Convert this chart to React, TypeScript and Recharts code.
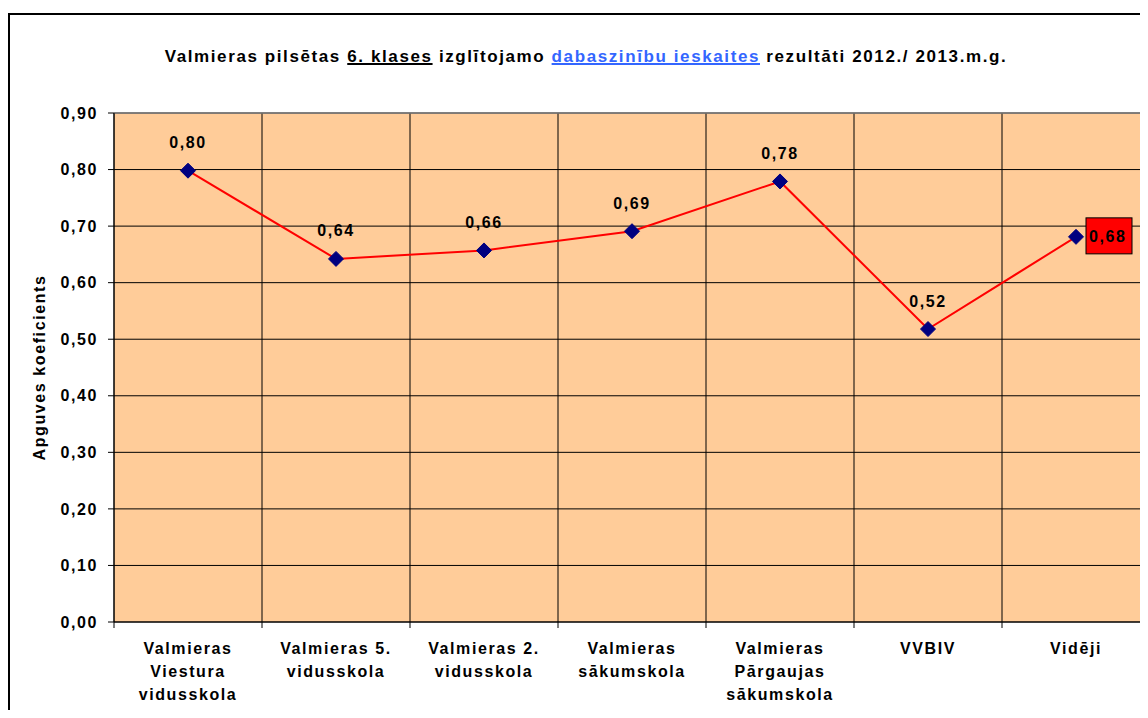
import { LineChart, Line, XAxis, YAxis, CartesianGrid, LabelList, ReferenceLine } from 'recharts'

const categories = [
  'Valmieras\nViestura\nvidusskola',
  'Valmieras 5.\nvidusskola',
  'Valmieras 2.\nvidusskola',
  'Valmieras\nsākumskola',
  'Valmieras\nPārgaujas\nsākumskola',
  'VVBIV',
  'Vidēji',
]
const values = [0.798, 0.642, 0.657, 0.691, 0.779, 0.518, 0.681]
const yTicks = [0, 0.1, 0.2, 0.3, 0.4, 0.5, 0.6, 0.7, 0.8, 0.9]

const FONT = "Arial, 'Liberation Sans', sans-serif"
const SPACING = 1.6
const fmt = (v: number) => v.toFixed(2).replace('.', ',')

const chartData = categories.map((name, i) => ({ name, value: values[i] }))

function XTick(props: any) {
  const { x, y, payload, width, visibleTicksCount } = props
  const band = width / visibleTicksCount
  const lines = String(payload.value).split('\n')
  return (
    <g>
      <line x1={x - band / 2} x2={x - band / 2} y1={y} y2={y + 6} stroke="#000" />
      <text
        x={x}
        y={y + 32}
        textAnchor="middle"
        fontFamily={FONT}
        fontSize={16}
        fontWeight="bold"
        letterSpacing={SPACING}
        fill="#000"
      >
        {lines.map((l, i) => (
          <tspan key={i} x={x} dy={i === 0 ? 0 : 23}>
            {l}
          </tspan>
        ))}
      </text>
    </g>
  )
}

function YLabel(props: any) {
  const { x, y, height } = props.viewBox
  const cx = x + 29
  const cy = y + height / 2
  return (
    <text
      x={cx}
      y={cy}
      transform={`rotate(-90, ${cx}, ${cy})`}
      textAnchor="middle"
      dominantBaseline="central"
      fontFamily={FONT}
      fontSize={16}
      fontWeight="bold"
      letterSpacing={SPACING}
      fill="#000"
    >
      Apguves koeficients
    </text>
  )
}

function Diamond(props: any) {
  const { cx, cy } = props
  if (cx == null || cy == null) return null
  const r = 7.5
  return (
    <polygon
      points={`${cx},${cy - r} ${cx + r},${cy} ${cx},${cy + r} ${cx - r},${cy}`}
      fill="#000080"
      stroke="#000080"
    />
  )
}

function PointLabel(props: any) {
  const { x, y, value, index } = props
  const common = {
    fontFamily: FONT,
    fontSize: 16,
    fontWeight: 'bold',
    letterSpacing: SPACING,
    fill: '#000',
    dominantBaseline: 'central' as const,
  }
  if (index === values.length - 1) {
    return (
      <g>
        <rect x={x + 10} y={y - 19} width={46} height={36} fill="#FF0000" stroke="#000" strokeWidth={1} />
        <text x={x + 13} y={y} {...common}>
          {fmt(value)}
        </text>
      </g>
    )
  }
  return (
    <text x={x} y={y - 28} textAnchor="middle" {...common}>
      {fmt(value)}
    </text>
  )
}

export default function App() {
  return (
    <div style={{ position: 'relative', paddingTop: 5, marginBottom: -8, width: 1140, fontFamily: FONT }}>
      <div
        style={{
          borderLeft: '2px solid #000',
          borderTop: '2px solid #000',
          width: 1138,
          height: 703,
          background: '#fff',
          overflow: 'hidden',
        }}
      >
        <LineChart
          width={1138}
          height={703}
          data={chartData}
          margin={{ top: 98, right: -2, bottom: 0, left: 0 }}
        >
          <CartesianGrid
            stroke="#000"
            fill="#FFCC99"
            fillOpacity={1}
            strokeWidth={1}
            verticalCoordinatesGenerator={({ offset }: any) =>
              categories.map((_, i) => offset.left + (i * offset.width) / categories.length)
            }
          />
          <XAxis
            dataKey="name"
            scale="band"
            height={96}
            interval={0}
            tickLine={false}
            tickSize={0}
            tickMargin={0}
            axisLine={{ stroke: '#000' }}
            tick={<XTick />}
          />
          <YAxis
            width={104}
            domain={[0, 0.9]}
            ticks={yTicks}
            tickFormatter={fmt}
            tickSize={6}
            tickMargin={10}
            axisLine={{ stroke: '#000' }}
            tickLine={{ stroke: '#000' }}
            tick={{ fill: '#000', fontSize: 16, fontWeight: 'bold', fontFamily: FONT, letterSpacing: SPACING }}
            label={<YLabel />}
          />
          <ReferenceLine y={0.9} stroke="#808080" strokeWidth={1.5} />
          <Line
            dataKey="value"
            stroke="#FF0000"
            strokeWidth={2}
            dot={<Diamond />}
            activeDot={false}
            isAnimationActive={false}
          >
            <LabelList dataKey="value" content={<PointLabel />} />
          </Line>
        </LineChart>
      </div>
      <div
        style={{
          position: 'absolute',
          left: 0,
          top: 39,
          width: 1140,
          paddingLeft: 16,
          boxSizing: 'border-box',
          textAlign: 'center',
          fontSize: 17,
          fontWeight: 'bold',
          letterSpacing: '1.6px',
          lineHeight: '20px',
          color: '#000',
        }}
      >
        Valmieras pilsētas <span style={{ textDecoration: 'underline', textDecorationThickness: 2 }}>6. klases</span>{' '}
        izglītojamo{' '}
        <span style={{ color: '#3366FF', textDecoration: 'underline', textDecorationThickness: 2 }}>
          dabaszinību ieskaites
        </span>{' '}
        rezultāti 2012./ 2013.m.g.
      </div>
    </div>
  )
}
